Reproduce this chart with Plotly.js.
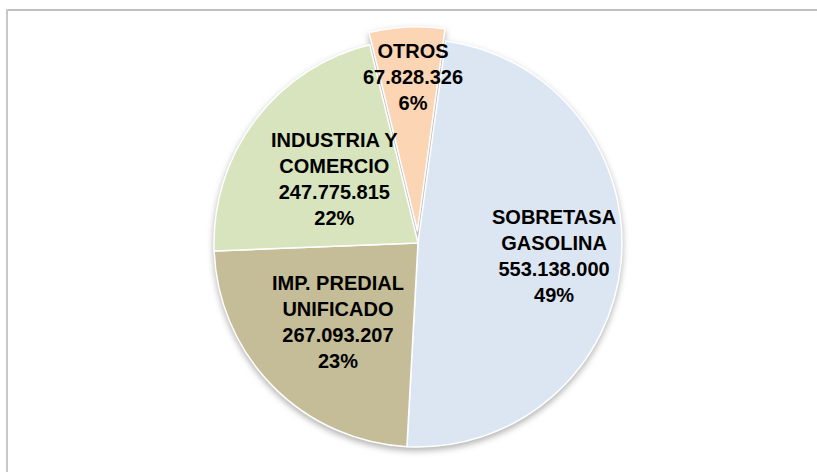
<!DOCTYPE html>
<html>
<head>
<meta charset="utf-8">
<script src="https://cdn.plot.ly/plotly-3.0.1.min.js"></script>
<style>
  html, body { margin: 0; padding: 0; background: #ffffff; }
  #chart { width: 817px; height: 472px; }
  .pielayer { filter: drop-shadow(0px 3px 3px rgba(0,0,0,0.30)); }
</style>
</head>
<body>
<div id="chart"></div>
<script>
// ---- data ----
const labels = ['SOBRETASA<br>GASOLINA', 'IMP. PREDIAL<br>UNIFICADO', 'INDUSTRIA Y<br>COMERCIO', 'OTROS'];
const values = [553138000, 267093207, 247775815, 67828326];
const pctLabels = ['49%', '23%', '22%', '6%'];
const colors = ['#dce6f2', '#c4bd97', '#d7e4bd', '#fcd5b5'];
const pulls = [0, 0, 0, 0.06];

function fmt(n) {
  return String(n).replace(/\B(?=(\d{3})+(?!\d))/g, '.');
}

const labelFont = { family: '"Liberation Sans", Arial, sans-serif', size: 20, color: '#000000' };

// label anchor points (pixel centres of the text blocks)
const labelPos = [[554, 256], [338, 322], [334, 179], [413, 77]];

const W = 817, H = 472;
const annotations = labels.map((l, i) => ({
  xref: 'paper', yref: 'paper',
  x: labelPos[i][0] / W, y: 1 - labelPos[i][1] / H,
  xanchor: 'center', yanchor: 'middle',
  showarrow: false, align: 'center',
  text: '<b>' + l + '<br>' + fmt(values[i]) + '<br>' + pctLabels[i] + '</b>',
  font: labelFont
}));

const cx = 418, cy = 243, r = 204, half = r * (1 + 0.06);

const trace = {
  type: 'pie',
  labels: labels,
  values: values,
  sort: false,
  direction: 'clockwise',
  rotation: 7.8,
  pull: pulls,
  textposition: 'none',
  hoverinfo: 'none',
  marker: { colors: colors, line: { color: '#ffffff', width: 1.5 } },
  domain: { x: [(cx - half) / W, (cx + half) / W], y: [1 - (cy + half) / H, 1 - (cy - half) / H] }
};

const layout = {
  width: W, height: H,
  margin: { l: 0, r: 0, t: 0, b: 0 },
  paper_bgcolor: '#ffffff',
  showlegend: false,
  annotations: annotations,
  shapes: [
    { type: 'line', xref: 'paper', yref: 'paper', x0: 6 / W, x1: 1, y0: 1 - 10 / H, y1: 1 - 10 / H, line: { color: '#bfbfbf', width: 2 } },
    { type: 'line', xref: 'paper', yref: 'paper', x0: 7 / W, x1: 7 / W, y0: 0, y1: 1 - 9 / H, line: { color: '#c8c8c8', width: 2 } }
  ]
};

Plotly.newPlot('chart', [trace], layout, { displayModeBar: false, staticPlot: true });
</script>
</body>
</html>
